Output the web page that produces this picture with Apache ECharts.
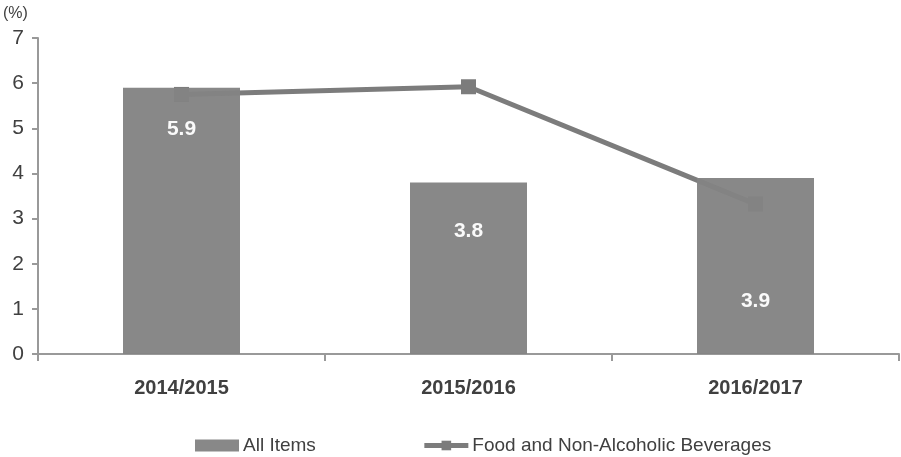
<!DOCTYPE html>
<html><head><meta charset="utf-8">
<script src="https://cdn.jsdelivr.net/npm/echarts@6/dist/echarts.min.js"></script>
<style>html,body{margin:0;padding:0;background:#fff}#c{width:901px;height:457px}</style>
</head><body><div id="c"></div>
<script>
const categories = ['2014/2015', '2015/2016', '2016/2017'];
const allItems = [5.9, 3.8, 3.9];
const foodBev = [5.75, 5.92, 3.32];
const yTicks = [0, 1, 2, 3, 4, 5, 6, 7];

const FONT = '"Liberation Sans", Arial, sans-serif';
const labelDist = [31, 38, 113];

const chart = echarts.init(document.getElementById('c'));
chart.setOption({
  animation: false,
  textStyle: { fontFamily: FONT },
  grid: { left: 38, right: 2, top: 38, bottom: 103 },
  graphic: [{ type: 'text', left: 3, top: 6, style: { text: '(%)', font: '16px ' + FONT, fill: '#404040' } }],
  legend: {
    top: 431, left: 190, itemGap: 106, itemWidth: 44, itemHeight: 12,
    textStyle: { fontFamily: FONT, fontSize: 19, color: '#404040', padding: [0, 0, 0, -1] },
    data: [{ name: 'All Items', icon: 'rect' },
           { name: 'Food and Non-Alcoholic Beverages', lineStyle: { width: 5 } }]
  },
  xAxis: {
    type: 'category', data: categories,
    axisLine: { lineStyle: { color: '#999', width: 2 } },
    axisTick: { show: true, length: 7, lineStyle: { color: '#999', width: 2 } },
    axisLabel: { fontFamily: FONT, fontSize: 20, fontWeight: 'bold', color: '#404040', margin: 24 }
  },
  yAxis: {
    type: 'value', min: yTicks[0], max: yTicks[yTicks.length - 1], interval: 1,
    splitLine: { show: false },
    axisLine: { show: true, lineStyle: { color: '#999', width: 2 } },
    axisTick: { show: true, length: 6, lineStyle: { color: '#999', width: 2 } },
    axisLabel: { fontFamily: FONT, fontSize: 21, color: '#404040', margin: 14 }
  },
  series: [
    {
      name: 'Food and Non-Alcoholic Beverages', type: 'line', data: foodBev, z: 2,
      symbol: 'rect', symbolSize: 15,
      lineStyle: { color: '#7c7c7c', width: 5 },
      itemStyle: { color: '#7c7c7c' }
    },
    {
      name: 'All Items', type: 'bar', barWidth: 117, z: 3,
      itemStyle: { color: '#838383', opacity: 0.96 },
      data: allItems.map((v, i) => ({
        value: v,
        label: { show: true, position: 'insideTop', distance: labelDist[i], color: '#fff',
                 fontFamily: FONT, fontSize: 21, fontWeight: 'bold', formatter: p => p.value.toFixed(1) }
      }))
    }
  ]
});
</script></body></html>
